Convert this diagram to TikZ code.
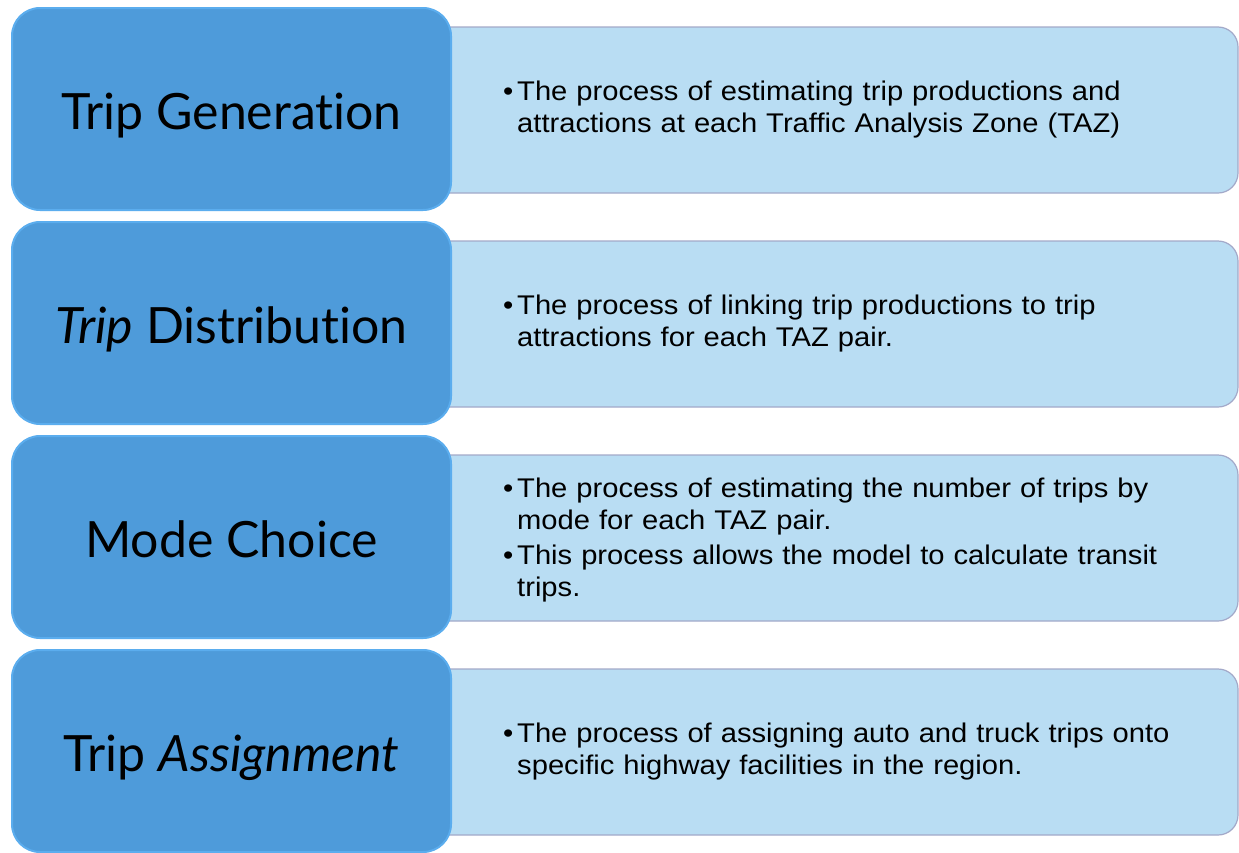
\documentclass[tikz,border=0pt]{standalone}
\usepackage{fontspec}
\setmainfont{Liberation Sans}
\newfontfamily\headfont[Ligatures=NoCommon]{Lato}
\newfontfamily\bodyfont[FakeStretch=1.08]{Liberation Sans}
\definecolor{leftblue}{HTML}{4E9BDA}
\definecolor{leftedge}{HTML}{5BADEE}
\definecolor{rightblue}{HTML}{B9DDF3}
\definecolor{rightedge}{HTML}{A3A9C9}
\tikzset{
  stagebox/.style={draw=leftedge, line width=2pt, fill=leftblue, rounded corners=28pt,
    minimum width=439pt, minimum height=202pt, inner sep=0pt},
  descbox/.style={draw=rightedge, line width=1.2pt, fill=rightblue, rounded corners=20pt,
    minimum width=808pt, minimum height=166pt, inner sep=0pt},
  stagetext/.style={anchor=base, font=\headfont\fontsize{50}{60}\selectfont, text=black, inner sep=0pt},
  desctext/.style={anchor=west, text width=720pt, align=left, inner sep=0pt,
    font=\bodyfont\fontsize{27}{32}\selectfont, text=black}
}
\newcommand{\bul}[1]{\noindent\makebox[14pt][l]{•}\parbox[t]{700pt}{\raggedright #1}\par}
\begin{document}
\begin{tikzpicture}[x=1pt,y=-1pt]
\useasboundingbox (0,0) rectangle (1239,852);
\fill[white] (0,0) rectangle (1239,852);

% row 1
\node[descbox] (d1) at (834,110) {};
\node[stagebox] (s1) at (231.5,109) {};
\node[stagetext] (l1) at (231.5,129) {Trip Generation};
\node[desctext] (t1) at (503,110) {\bul{The process of estimating trip productions and\\attractions at each Traffic Analysis Zone (TAZ)}};

% row 2
\node[descbox] (d2) at (834,324) {};
\node[stagebox] (s2) at (231.5,323) {};
\node[stagetext] (l2) at (231.5,343) {\itshape Trip\upshape{} Distribution};
\node[desctext] (t2) at (503,324) {\bul{The process of linking trip productions to trip\\attractions for each TAZ pair.}};

% row 3
\node[descbox] (d3) at (834,538) {};
\node[stagebox] (s3) at (231.5,537) {};
\node[stagetext] (l3) at (231.5,557) {Mode Choice};
\node[desctext] (t3) at (503,540) {\bul{The process of estimating the number of trips by\\mode for each TAZ pair.}\vspace{8pt}\bul{This process allows the model to calculate transit\\trips.}};

% row 4
\node[descbox] (d4) at (834,752) {};
\node[stagebox] (s4) at (231.5,751) {};
\node[stagetext] (l4) at (231.5,771) {Trip \itshape Assignment};
\node[desctext] (t4) at (503,752) {\bul{The process of assigning auto and truck trips onto\\specific highway facilities in the region.}};
\end{tikzpicture}
\end{document}
